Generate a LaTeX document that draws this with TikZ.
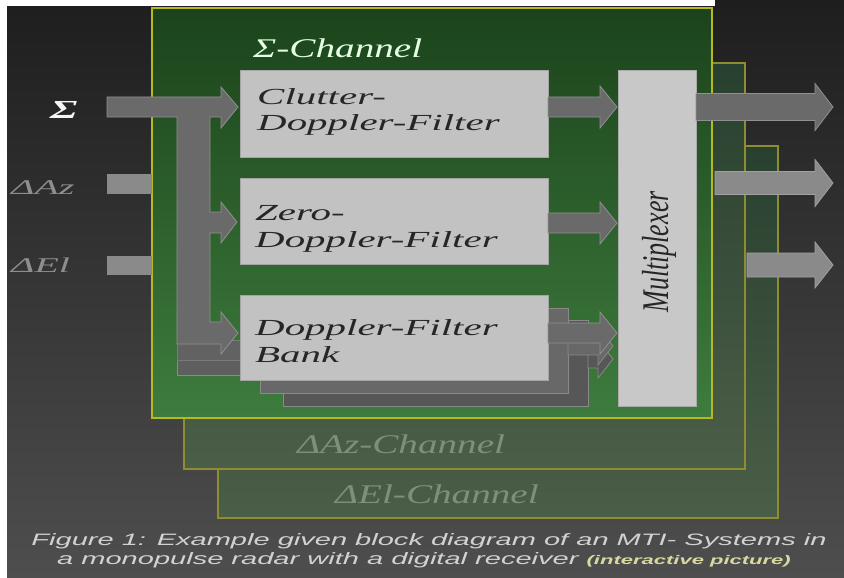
\documentclass[tikz,border=0pt]{standalone}
\usepackage{fontspec}
\usepackage{graphicx}
\setmainfont{Liberation Serif}
\newfontfamily\ffil[FakeStretch=1.78]{Liberation Serif}
\newfontfamily\fchan[FakeStretch=1.45]{Liberation Serif}
\newfontfamily\fdel[FakeStretch=1.9]{Liberation Serif}
\newfontfamily\fsig[FakeStretch=1.7]{Liberation Serif}
\newfontfamily\fcap[FakeStretch=1.76]{Liberation Sans}
\definecolor{bgtop}{HTML}{1E1E1E}
\definecolor{bgbot}{HTML}{4E4E4E}
\definecolor{grtop}{HTML}{1B431B}
\definecolor{grbot}{HTML}{3E7C3E}
\definecolor{yel}{HTML}{B8B822}
\definecolor{dyel}{HTML}{8E8E30}
\definecolor{chtop}{HTML}{28402F}
\definecolor{chbot}{HTML}{4B5E47}
\definecolor{boxgray}{HTML}{C2C2C2}
\definecolor{muxgray}{HTML}{C8C8C8}
\definecolor{arrgray}{HTML}{6A6A6A}
\definecolor{arredge}{HTML}{909090}
\definecolor{outgray}{HTML}{8A8A8A}
\definecolor{shad}{HTML}{575757}
\definecolor{labgray}{HTML}{8E8E8E}
\definecolor{chtext}{HTML}{7E9079}
\definecolor{captext}{HTML}{D2D2D2}
\definecolor{inttext}{HTML}{D8D8A0}
\newcommand\blockarrow[7]{%
  \filldraw[#1] (#2,#4-#5) -- (#3-#7,#4-#5) -- (#3-#7,#4-#6) -- (#3,#4)
    -- (#3-#7,#4+#6) -- (#3-#7,#4+#5) -- (#2,#4+#5) -- cycle;}
\begin{document}
\begin{tikzpicture}[x=1pt,y=-1pt,
  arr/.style={fill=arrgray,draw=arredge,line width=0.8pt},
  outarr/.style={fill=outgray,draw=outgray!80!white,line width=0.8pt},
  shadarr/.style={fill=shad,draw=shad!70!white,line width=0.8pt},
  filterbox/.style={fill=boxgray,draw=boxgray!85!black,line width=0.6pt},
  shadowbox/.style={fill=shad,draw=shad!70!white,line width=0.8pt},
  ftext/.style={anchor=base west,inner sep=0pt,font=\ffil\itshape\fontsize{23}{27}\selectfont,text=black!85},
  chtxt/.style={anchor=base west,inner sep=0pt,font=\fchan\itshape\fontsize{27}{30}\selectfont,text=chtext},
  dlab/.style={anchor=base west,inner sep=0pt,font=\fdel\itshape\fontsize{21}{24}\selectfont,text=labgray},
  captxt/.style={anchor=base,inner sep=0pt,font=\fcap\itshape\fontsize{16.5}{18}\selectfont,text=captext}]
\useasboundingbox (0,0) rectangle (844,578);
% background
\shade[top color=bgtop,bottom color=bgbot] (0,0) rectangle (844,578);
\fill[white] (0,0) rectangle (715,6);
\fill[white] (0,0) rectangle (7,578);
% channel frames
\shade[top color=chtop,bottom color=chbot] (218,146) rectangle (778,518);
\draw[dyel,line width=1.2pt] (218,146) rectangle (778,518);
\shade[top color=chtop,bottom color=chbot] (184,63) rectangle (745,469);
\draw[dyel,line width=1.2pt] (184,63) rectangle (745,469);
\shade[top color=grtop,bottom color=grbot] (152,8) rectangle (712,418);
\draw[yel,line width=1.8pt] (152,8) rectangle (712,418);
% channel labels
\node[chtxt] (azch) at (297,453) {ΔAz-Channel};
\node[chtxt] (elch) at (335,503) {ΔEl-Channel};
\node[chtxt,text=white!90!green] (sigch) at (253,58) {Σ-Channel};
% inputs
\node[anchor=base west,inner sep=0pt,font=\fsig\bfseries\itshape\fontsize{26}{28}\selectfont,text=white!92!gray] (sig) at (50,118) {Σ};
\node[dlab] (daz) at (11,194) {ΔAz};
\node[dlab] (del) at (11,272) {ΔEl};
\fill[outgray] (107,174) rectangle (152,194);
\fill[outgray] (107,256) rectangle (152,275);
% shadow L strips
\filldraw[fill=shad!95!white,draw=shad!70!white,line width=0.8pt] (177,340) rectangle (283,375);
\filldraw[fill=arrgray!92!black,draw=arredge!85!black,line width=0.8pt] (177,340) rectangle (262,360);
% distribution arrow
\filldraw[arr] (107,97) -- (221,97) -- (221,87) -- (238,107) -- (221,128) -- (221,117)
  -- (210,117) -- (210,212) -- (221,212) -- (221,202) -- (237,222) -- (221,243) -- (221,233)
  -- (210,233) -- (210,322) -- (221,322) -- (221,312) -- (238,333) -- (221,354) -- (221,344)
  -- (177,344) -- (177,117) -- (107,117) -- cycle;
% bank shadows
\filldraw[shadowbox] (283,320) rectangle (588,406);
\filldraw[shadowbox,fill=shad!90!white] (260,308) rectangle (568,393);
\blockarrow{shadarr}{588}{613}{359}{9}{19}{15}
\blockarrow{shadarr,fill=shad!90!white}{568}{613}{346}{9}{19}{15}
% filters
\node[filterbox,anchor=north west,minimum width=308pt,minimum height=87pt,inner sep=0pt] (cdf) at (240,70) {};
\node[filterbox,anchor=north west,minimum width=308pt,minimum height=86pt,inner sep=0pt] (zdf) at (240,178) {};
\node[filterbox,anchor=north west,minimum width=308pt,minimum height=85pt,inner sep=0pt] (dfb) at (240,295) {};
\node[ftext] (t1a) at (257,104) {Clutter-};
\node[ftext] (t1b) at (257,131) {Doppler-Filter};
\node[ftext] (t2a) at (255,220) {Zero-};
\node[ftext] (t2b) at (255,247) {Doppler-Filter};
\node[ftext] (t3a) at (255,335) {Doppler-Filter};
\node[ftext] (t3b) at (255,362) {Bank};
% filter -> mux arrows
\blockarrow{arr}{548}{617}{107}{10}{21}{17}
\blockarrow{arr}{548}{617}{223}{10}{21}{17}
\blockarrow{arr}{548}{617}{333}{10}{21}{17}
% multiplexer
\node[fill=muxgray,draw=muxgray!85!black,line width=0.6pt,anchor=north west,minimum width=78pt,minimum height=336pt,inner sep=0pt] (mux) at (618,70) {};
\node[rotate=90,inner sep=0pt] (muxt) at (659,252) {\scalebox{1}[1.45]{\fontsize{26}{30}\selectfont\itshape\color{black!85}Multiplexer}};
% outputs
\blockarrow{arr}{696}{833}{107}{13.5}{23.5}{18}
\blockarrow{outarr}{715}{833}{183}{11.5}{23.5}{18}
\blockarrow{outarr}{747}{833}{265}{12}{23}{18}
% caption
\node[captxt] (cap1) at (429,545) {Figure 1: Example given block diagram of an MTI- Systems in};
\node[captxt] (cap2) at (424,564) {a monopulse radar with a digital receiver {\bfseries\fontsize{12.5}{14}\selectfont\color{inttext}(interactive picture)}};
\end{tikzpicture}
\end{document}
